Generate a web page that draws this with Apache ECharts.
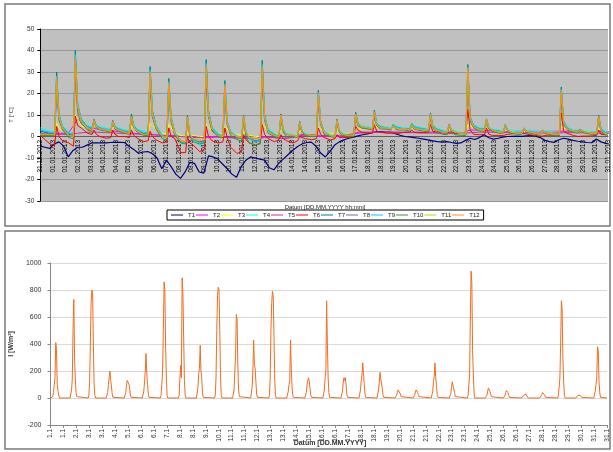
<!DOCTYPE html>
<html><head><meta charset="utf-8">
<script src="https://cdn.jsdelivr.net/npm/echarts/dist/echarts.min.js"></script>
<style>html,body{margin:0;padding:0;background:#fff}#c{width:613px;height:452px}</style>
</head><body><div id="c"></div>
<script>
// ---------- TOP CHART DATA (temperatures) ----------
const topNames = ["T1","T2","T3","T4","T5","T6","T7","T8","T9","T10","T11","T12"];
const topColors = ["#000080","#FF00FF","#FFFF00","#00FFFF","#CC3399","#FF0000","#008080","#6666CC","#00CCFF","#339933","#CCCC00","#FF8C1A"];
const topTickLabels = ["31.12.2012","01.01.2013","01.01.2013","02.01.2013","03.01.2013","04.01.2013","04.01.2013","05.01.2013","06.01.2013","06.01.2013","07.01.2013","08.01.2013","08.01.2013","09.01.2013","10.01.2013","10.01.2013","11.01.2013","12.01.2013","12.01.2013","13.01.2013","14.01.2013","14.01.2013","15.01.2013","16.01.2013","16.01.2013","17.01.2013","18.01.2013","18.01.2013","19.01.2013","20.01.2013","20.01.2013","21.01.2013","22.01.2013","22.01.2013","23.01.2013","24.01.2013","24.01.2013","25.01.2013","26.01.2013","26.01.2013","27.01.2013","28.01.2013","28.01.2013","29.01.2013","30.01.2013","31.01.2013"];
// hours of day at which the daily values below are read: 04:00, 10:00, 12:30, 15:30, 20:00
const dayHours = [4,10,12.5,15.5,20];
// T1: 6-hourly readings
const t1Values = [-4.5,-5,-5.5,-3.5,-2.5,-4.5,-9.5,-6.5,-5,-5,-4,-3,-3,-3,-3,-2.8,-2.7,-2.7,-2.8,-4.5,
-6,-7.8,-7.2,-7,-8,-10,-15,-11,-14,-17.5,-19.5,-16.5,-12,-12.5,-16.5,-17,-9,-9.5,-10.5,-12.8,
-15,-17.5,-19,-14,-11,-9.5,-10,-10.5,-11,-14.5,-15.5,-12.5,-10.5,-8.5,-6.5,-4.8,-3.5,-2.8,-2.6,-4.5,
-7.7,-9.5,-7,-4,-2.5,-1.5,-0.8,-0.3,0.3,0.8,1.2,1.8,2.3,2.3,2,2,1.3,0.6,0,-0.2,
-0.5,-0.8,-1.2,-1.6,-2,-2.4,-2.6,-2.4,-2.8,-3.2,-3,-1.8,-0.8,-1.4,-0.5,0.8,-0.6,-1.2,-0.8,-0.3,
0,0.1,0.2,0.1,0.3,0.4,0.2,-0.5,-1.8,-2.4,-2.7,-1.5,-0.8,-1.2,-1.8,-2.2,-2.5,-2.8,-2.9,-1.2,
-2.5,-3.2,-3.6];
// T2 and T5: 12-hourly readings
const t2Values = [1.5,1.5,1.5,1.5,8,5,3.5,3,2.5,2,1.5,1.2,1,0.5,0.5,0,0,-0.5,0,0,
-0.5,-0.5,-0.5,-1,0,-0.5,-1,-0.5,1,0.5,0,0,0,0.5,2,2,2,2,2,2,
2,2,2,1.8,1.5,1.5,3,3,2.8,2.5,2.4,2.4,2.4,2.4,2.4,2.4,2.5,2.4,2.3,2.3,2.2,2.2];
const t5Values = [1,1,1,1,1.5,2,2,1.8,1.6,1.4,1.2,1,0.8,0.5,0.3,0,-0.3,-0.5,-0.5,-0.3,
-0.5,-0.8,-0.8,-1,-0.5,-0.5,-0.8,-0.3,0.5,0.8,0.5,0.3,0.5,1,1.5,1.8,2,2,2,1.8,
1.8,1.6,1.6,1.5,1.4,1.3,1.8,2,2,1.9,1.8,1.8,1.7,1.7,1.6,1.6,1.8,1.8,1.7,1.6,1.5,1.5];
// daily readings [04:00, 10:00, 12:30, 15:30, 20:00]; edges = [start value, end value]
const t3Edges = [1,2];
const t3Days = [[1,1,6,4,2.5],[1.5,1,10,8,5],[3.5,3,5,4,3.5],[3,2.5,4.5,3.5,3],[2.5,2,5,3.5,2.5],[2,1.5,6,5,3.5],[1.5,1,5.5,4,2],[0.5,0,2,1,0.5],[0,0,5.5,4.5,2.5],[1.5,1,4.5,3.5,2],
[1,0.5,2,1.5,0.5],[0,0,5.5,4.5,2.5],[1.5,1,3,2.5,1.5],[1,1,2.5,2,1.5],[1,1,4.5,3.5,2],[1.5,1,2.5,2,1.5],[1.5,1,4,4,3.5],[3.5,3,5.5,4.5,4],[3.5,3.5,4,4,3.5],[3.5,3,4,4,3.5],
[3,3,5,4,3.5],[2.5,2.5,3.5,3,2.5],[2,2,5.5,5,4],[3.5,3,4,3.5,3],[2.5,2.5,3,3,2.5],[2,2,2.5,2.5,2],[2,2,2.5,2,2],[2,2,4.5,4,3],[2.5,2.5,3,2.5,2.5],[2,2,3.5,3,2]];
const t4Edges = [4,2];
const t4Days = [[2.5,2,29.5,11,5],[2,1.5,39.5,16,8.5],[5,4.5,7.5,5.5,4.5],[4,3.5,7,5,4],[3,3,10,5.5,3.5],[2.5,2,32,12.5,5.5],[1,0,26.5,9.5,2.5],[-2,-3.5,9,1.5,-2],[-4,-3,35,12.5,4.5],[1.5,0.5,25.5,7.5,2.5],
[0.5,-0.5,9.5,2.5,-0.5],[-2,-1.5,35,10.5,3.5],[1.5,0.5,10,3.5,1.5],[1,0.5,6.5,3,1.5],[1,1,21,7.5,2.5],[1,0.5,7.5,3,1.5],[1,1,11,6,5],[4.5,4,12,6.5,5],[4.5,4,5.5,5,4.5],[4,4,6,5,4.5],
[4,3.5,10.5,5.5,4],[3,2.5,5.5,3.5,2.5],[2,1.5,33,9.5,5.5],[4,4,8,4.5,3.5],[3,3,5.5,3.5,3],[2.5,2.5,4,3,3],[2.5,2,3,2.5,2.5],[2,2,22.5,7.5,4.5],[3,3,3.5,3,2.5],[2.5,2,9.5,4,2.5]];
const t6Edges = [0.5,0.8];
const t6Days = [[-3.5,-4,4.7,0,-2],[-3,-4.5,9.5,5,4],[1.5,1,3,1,0],[-0.8,-0.5,3,1,0],[0,-0.5,3,0.5,-0.8],[-2.4,-2,2.4,0,-1.5],[-3,-2.5,4,0,-0.8],[-7.5,-7.5,0,-3,-4],[-7,-6,4.7,0,-2],[-3,-2.5,4,-0.5,-5],
[-7.9,-7,0.8,-1.5,-3],[-4,-3,5.5,1,-1],[-2.4,-1.5,0.8,-1,-2],[-3,-2,0,-0.5,-1],[-1.5,-1,4,1,-0.5],[-1.6,-1,0.8,-0.5,-0.5],[-0.5,0,4.7,3,2],[1.6,1.5,5.5,2.5,2],[1.5,1.5,1.6,1.5,1.5],[2,2,3,2,1.8],
[1.8,2,5.5,2.4,2.2],[2.2,2,2.4,2,1.6],[1.5,1.5,12.6,3,1],[0.8,1,4,1,0.5],[0.5,0.5,0.8,1,1.2],[1.5,1.6,2.4,1.2,0.8],[0.5,0,0,0.5,0.6],[0.5,0.5,11,2.5,1.5],[0.5,0,0,0.2,0.2],[0.3,0.5,3,1,0.8]];
const t7Edges = [2.5,1.5];
const t7Days = [[1.5,1.5,30,10,4.5],[1,0.5,40,15,8],[4.5,3.5,8,5,4],[3,2.5,7.5,4.5,3.5],[2.5,2,10.5,5,3],[1.5,1.5,32.5,12,5],[0,-0.5,27,9,2],[-2.5,-3,9.7,1,-1.5],[-2.5,-2,35.8,12,4],[1,0,26,7,2],
[0,-1,10,2,-1],[-2.5,-2,35.4,10,3],[1,0,10.5,3,1],[0.5,0,7,2.5,1],[0.5,0.5,21.5,7,2],[0.5,0,8,2.5,1],[0.5,0.5,11.3,6,4.5],[4,3.5,12.3,6,4.5],[4,3.5,5.5,4.5,4],[3.5,3.5,6,4.5,4],
[3.5,3,11,5,3.5],[2.5,2,5.8,3,2],[1.5,1,33.5,9,5],[3.5,3.5,8.2,4,3],[2.5,2,5.5,3,2],[1.5,1.5,4,2.5,2],[1.5,1,3,2,1.5],[1,1,23,7,4],[2.5,2.5,3.5,2.5,2],[1.5,1.5,10,3.5,2]];
const t8Edges = [1.5,1.5];
const t8Days = [[1,1,21,7.5,3.5],[0.5,0,28,11,6],[3.5,3,6.5,4,3.5],[3,2.5,6,3.5,3],[2,1.5,8,4,2.5],[1,1,23,9,4],[0,-0.5,19,6.5,1.5],[-2,-2.5,7,0.5,-1.5],[-2.5,-2,25,9,3],[0.5,0,18,5.5,1.5],
[0,-0.5,7.5,1.5,-1],[-2,-1.5,25,7.5,2.5],[0.5,0,8,2.5,1],[0.5,0,5.5,2,1],[0.5,0.5,15,5.5,2],[0.5,0,6,2,1],[0.5,0.5,8.5,5,4],[3.5,3.5,9,5,4],[3.5,3.5,4.8,4,3.5],[3.5,3,5,4,3.5],
[3,3,8.5,4.5,3],[2,2,4.8,3,2],[1.5,1,23.5,7,4],[3,3,6.5,3.5,3],[2,2,4.5,3,2],[1.5,1.5,3.5,2.5,2],[1.5,1,2.7,2,1.5],[1,1,16,5.5,3.5],[2.5,2,3,2.5,2],[1.5,1.5,7.5,3,1.5]];
const t9Edges = [3,1.5];
const t9Days = [[2,1.5,28,10,4.5],[1.5,1,38,15,8],[4.5,4,7.5,5,4],[3.5,3,7,4.5,3.5],[2.5,2.5,9.5,5,3],[2,1.5,31,11.5,5],[0.5,-0.5,25.5,9,2],[-2.5,-3,9,1,-1.5],[-3,-2.5,34,12,4],[1,0,24.5,7,2],
[0,-1,9.5,2,-1],[-2.5,-2,33.5,10,3],[1,0,10,3,1],[0.5,0,6.5,2.5,1],[0.5,0.5,20.5,7,2],[0.5,0,7.5,2.5,1],[0.5,0.5,10.5,6,4.5],[4,3.5,11.5,6,4.5],[4,3.5,5.2,4.5,4],[3.5,3.5,5.8,4.5,4],
[3.5,3,10.5,5,3.5],[2.5,2,5.5,3,2],[1.5,1,32,9,5],[3.5,3.5,7.8,4,3],[2.5,2,5.2,3,2],[2,1.5,3.8,2.5,2],[1.5,1,2.8,2,1.5],[1,1,22,7,4],[2.5,2.5,3.3,2.5,2],[1.5,1.5,9.5,3.5,2]];
const t10Edges = [0.5,0.5];
const t10Days = [[0.5,0.5,24,8.5,3],[-0.5,-1,33,13,6.5],[3,2.5,7,4,3],[2.5,2,6.5,3.5,2.5],[1.5,1,8.5,4,2],[0.5,0.5,26.5,10,3.5],[-1,-1.5,22,7.5,0.5],[-3,-3.5,8,0,-2.5],[-3.5,-3,29.5,10,2.5],[0,-0.5,21.5,6,0.5],
[-1.5,-2,8.5,0,-3],[-4,-3.5,29,8.5,1.5],[0,-0.5,9,2,0],[0,-0.5,6,2,0.5],[0,0,17.5,6,1],[0,-0.5,7,2,0.5],[0,0,9.5,5,4],[3.5,3,10.5,5,3.5],[3.5,3,4.8,3.5,3],[3,2.5,5,3.5,3],
[2.5,2,9.5,4,2],[1,0.8,5,2,0.8],[0.5,0.5,28,8,4],[2.5,2.5,7,3.5,2.5],[1.5,1.5,4.8,2.5,1.5],[1,1,3.5,2,1.5],[1,0.5,2.6,1.5,1],[0.5,0.5,19,6,3],[2,1.5,3,2,1.5],[1,1,8.5,2.5,1]];
const t11Edges = [1,1];
const t11Days = [[1,0.8,26,9,4],[0.5,0,35,14,7],[4,3,7,4.5,3.5],[3,2.5,6.8,4,3],[2,1.5,9,4.5,2.5],[1,1,28.5,10.5,4.5],[0,-0.5,24,8,1.5],[-2,-2.5,8.5,1,-1],[-2,-1.5,31.5,10.5,3.5],[0.5,0,23,6.5,1.5],
[0,-0.5,9,2,-0.5],[-1,-1,31,9,2.5],[0.5,0,9.5,3,1],[0.5,0,6.3,2.5,1],[0.5,0.5,19,6.5,2],[0.5,0,7.2,2.5,1],[0.5,0.5,10,5.5,4.5],[4,3.5,11,5.5,4],[4,3.5,5,4,3.5],[3.5,3,5.3,4,3.5],
[3,3,10,4.5,3],[2,2,5.2,3,2],[1.5,1,30.5,8.5,4.5],[3,3,7.5,4,3],[2,2,5,3,2],[1.5,1.5,3.6,2.5,2],[1.5,1,2.7,2,1.5],[1,1,20.5,6.5,3.5],[2.5,2,3.2,2.5,2],[1.5,1.5,9,3,1.5]];
const t12Edges = [1,1];
const t12Days = [[1,1,27.5,9.5,4],[0.5,0,37,14.5,7.5],[4,3,7.5,4.5,3.5],[3,2.5,7,4,3],[2,1.5,9.5,4.5,2.5],[1,1,30,11,4.5],[0,-0.5,25,8.5,1.5],[-2,-2.5,9,1,-1],[-2,-1.5,33,11,3.5],[0.5,0,24,6.5,1.5],
[0,-0.5,9.5,2,-0.5],[-1,-1,32.5,9.5,2.5],[0.5,0,10,3,1],[0.5,0,6.5,2.5,1],[0.5,0.5,20,6.5,2],[0.5,0,7.5,2.5,1],[0.5,0.5,10.5,5.5,4.5],[4,3.5,11.5,5.5,4],[4,3.5,5,4,3.5],[3.5,3,5.5,4,3.5],
[3,3,10.5,4.5,3],[2,2,5.5,3,2],[1.5,1,32,8.5,4.5],[3,3,8,4,3],[2,2,5.2,3,2],[1.5,1.5,3.8,2.5,2],[1.5,1,2.8,2,1.5],[1,1,21.5,6.5,3.5],[2.5,2,3.3,2.5,2],[1.5,1.5,9.5,3,1.5]];

// ---------- BOTTOM CHART DATA (irradiance) ----------
const bottomTickLabels = ["1.1","1.1","2.1","3.1","3.1","4.1","5.1","6.1","6.1","7.1","8.1","8.1","9.1","10.1","11.1","11.1","12.1","13.1","13.1","14.1","15.1","16.1","16.1","17.1","18.1","18.1","19.1","20.1","21.1","21.1","22.1","23.1","23.1","24.1","25.1","26.1","26.1","27.1","28.1","28.1","29.1","30.1","31.1","31.1"];
// hourly readings 07:00 .. 17:00 for each day (night = 0)
const irrDays = [
[0,10,40,100,150,410,360,100,50,20,0],[0,10,60,140,500,730,300,150,40,10,0],[0,20,120,400,700,800,780,400,100,20,0],[0,10,40,100,150,200,130,90,30,5,0],[0,10,40,90,130,140,120,90,30,5,0],
[0,10,50,120,200,330,180,100,30,5,0],[0,20,100,200,500,860,800,400,150,20,0],[0,20,150,240,150,890,770,450,130,20,0],[0,10,80,180,220,390,200,150,40,5,0],[0,20,150,500,760,820,800,500,150,20,0],
[0,10,60,200,320,620,580,250,60,10,0],[0,10,80,200,430,250,220,120,30,5,0],[0,20,150,500,700,790,760,480,150,20,0],[0,10,50,100,130,430,220,90,20,5,0],[0,10,40,100,130,150,120,70,20,5,0],
[0,10,60,150,200,720,400,150,40,5,0],[0,10,50,110,150,130,150,90,20,5,0],[0,10,60,130,170,260,180,100,30,5,0],[0,10,60,120,190,140,110,70,20,5,0],[0,5,20,40,60,50,60,30,10,0,0],
[0,5,20,45,60,55,40,25,10,0,0],[0,10,50,120,160,260,150,90,20,5,0],[0,5,30,80,120,90,70,40,10,0,0],[0,20,100,170,600,940,850,350,170,30,0],[0,5,20,50,75,70,50,30,10,0,0],
[0,5,20,40,55,50,40,20,5,0,0],[0,0,10,20,30,25,30,15,5,0,0],[0,0,10,25,40,30,35,20,5,0,0],[0,20,80,150,400,720,650,300,120,20,0],[0,0,10,20,30,30,20,10,5,0,0],
[0,10,50,100,150,380,350,120,40,5,0]];

// ---------- BUILD ----------
const TOP_MAX = 729, TOP_INT = 16.2, BOT_MAX = 739.6, BOT_INT = 17.2;
function gridPts(vals, step){ return vals.map((v,k)=>[k*step, v]); }
function dayPts(days, edges){
  const p=[[0,edges[0]]];
  days.forEach((d,j)=>d.forEach((v,i)=>p.push([24*j+dayHours[i]+8.5, v])));
  p.push([TOP_MAX, edges[1]]);
  return p;
}
const topData = [
  gridPts(t1Values,6), gridPts(t2Values,12), dayPts(t3Days,t3Edges), dayPts(t4Days,t4Edges),
  gridPts(t5Values,12), dayPts(t6Days,t6Edges), dayPts(t7Days,t7Edges), dayPts(t8Days,t8Edges),
  dayPts(t9Days,t9Edges), dayPts(t10Days,t10Edges), dayPts(t11Days,t11Edges), dayPts(t12Days,t12Edges)
];
const irrPts=[[0,0]];
irrDays.forEach((d,j)=>d.forEach((v,i)=>irrPts.push([24*j+7+i-5, v])));
irrPts.push([BOT_MAX,0]);

const FONT = "Liberation Sans, Arial, sans-serif";
const series = topNames.map((n,i)=>({
  name:n, type:'line', xAxisIndex:0, yAxisIndex:0, data:topData[i],
  showSymbol:false, symbol:'none', lineStyle:{color:topColors[i], width: i===0?1.2:1},
  itemStyle:{color:topColors[i]}, animation:false
}));
series.push({name:'I', type:'line', xAxisIndex:1, yAxisIndex:1, data:irrPts, showSymbol:false, symbol:'none',
  lineStyle:{color:'#F36C21', width:1}, itemStyle:{color:'#F36C21'}, animation:false});

const chart = echarts.init(document.getElementById('c'), null, {renderer:'canvas'});
chart.setOption({
  animation:false,
  backgroundColor:'#fff',
  textStyle:{fontFamily:FONT},
  grid:[
    {left:40, top:29, width:568, height:172, show:true, backgroundColor:'#C0C0C0', borderWidth:0},
    {left:48, top:263, width:559, height:162, show:false}
  ],
  xAxis:[
    {type:'value', gridIndex:0, min:0, max:TOP_MAX, interval:TOP_INT, position:'bottom', offset:-65,
     axisLine:{show:true, onZero:false, lineStyle:{color:'#606060', width:1}},
     axisTick:{show:false}, splitLine:{show:false},
     axisLabel:{rotate:90, fontSize:6.5, color:'#000', margin:4, fontFamily:FONT,
       showMinLabel:true, showMaxLabel:true,
       formatter:v=>topTickLabels[Math.round(v/TOP_INT)]||''}},
    {type:'value', gridIndex:1, min:0, max:BOT_MAX, interval:BOT_INT,
     axisLine:{show:true, onZero:false, lineStyle:{color:'#888', width:1}},
     axisTick:{show:true, length:3, lineStyle:{color:'#888'}}, splitLine:{show:false},
     axisLabel:{rotate:90, fontSize:6.5, color:'#333', margin:4, fontFamily:FONT,
       showMinLabel:true, showMaxLabel:true,
       formatter:v=>bottomTickLabels[Math.round(v/BOT_INT)]||''}}
  ],
  yAxis:[
    {type:'value', gridIndex:0, min:-30, max:50, interval:10,
     name:'T [°C]', nameLocation:'middle', nameRotate:90, nameGap:22,
     nameTextStyle:{fontSize:6, color:'#333', fontFamily:FONT},
     axisLine:{show:true, lineStyle:{color:'#000', width:1}},
     axisTick:{show:true, length:3, lineStyle:{color:'#000'}},
     splitLine:{show:true, lineStyle:{color:'#969696', width:1}},
     axisLabel:{fontSize:6.5, color:'#333', margin:6, fontFamily:FONT, formatter:v=>String(v)}},
    {type:'value', gridIndex:1, min:-200, max:1000, interval:200,
     name:'I [W/m²]', nameLocation:'middle', nameRotate:90, nameGap:28,
     nameTextStyle:{fontSize:7, fontWeight:'bold', color:'#333', fontFamily:FONT},
     axisLine:{show:true, lineStyle:{color:'#888', width:1}},
     axisTick:{show:true, length:3, lineStyle:{color:'#888'}},
     splitLine:{show:true, lineStyle:{color:'#D9D9D9', width:1}},
     axisLabel:{fontSize:7, color:'#333', margin:9, fontFamily:FONT, formatter:v=>String(v)}}
  ],
  legend:{data:topNames, left:167, top:210, orient:'horizontal', icon:'rect', itemWidth:12, itemHeight:1,
    itemGap:1, padding:[2,4], borderColor:'#000', borderWidth:1, backgroundColor:'#fff',
    textStyle:{fontSize:6, color:'#222', fontFamily:FONT}},
  graphic:[
    {type:'rect', shape:{x:5,y:4,width:605,height:222}, style:{fill:'none', stroke:'#7a7a7a', lineWidth:1.5}, silent:true},
    {type:'rect', shape:{x:5,y:231,width:605,height:218}, style:{fill:'none', stroke:'#7a7a7a', lineWidth:1.5}, silent:true},
    {type:'text', x:325, y:207, style:{text:'Datum [DD.MM.YYYY hh:mm]', fontSize:6, fontFamily:FONT, fill:'#222', align:'center', verticalAlign:'middle'}, silent:true},
    {type:'text', x:330, y:443, style:{text:'Datum [DD.MM.YYYY]', fontSize:7, fontWeight:'bold', fontFamily:FONT, fill:'#333', align:'center', verticalAlign:'middle'}, silent:true}
  ],
  series:series
});
</script></body></html>
